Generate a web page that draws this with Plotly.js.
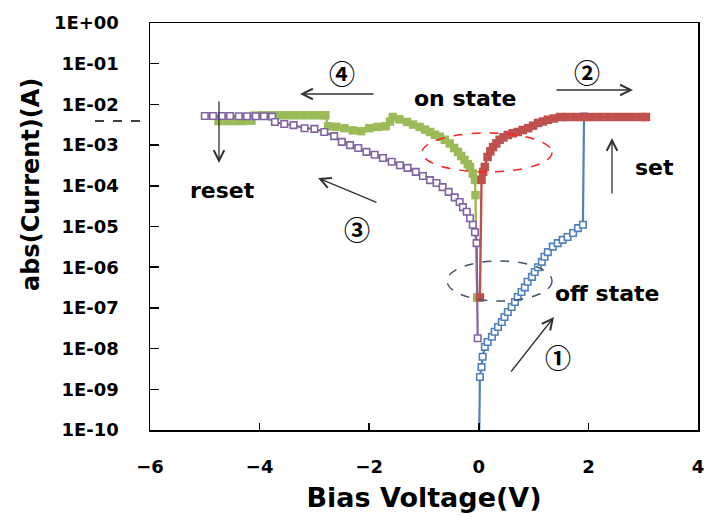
<!DOCTYPE html>
<html>
<head>
<meta charset="utf-8">
<script src="https://cdn.plot.ly/plotly-3.0.1.min.js"></script>
<style>html,body{margin:0;padding:0;background:#fff;}#chart{width:707px;height:517px;}</style>
</head>
<body>
<div id="chart"></div>
<script>
// ---- Data ----
// Sweep 1 (off state, 0 -> 2 V), open blue squares
const blueV = [0, 0.02, 0.05, 0.07, 0.11, 0.16, 0.24, 0.29, 0.35, 0.42, 0.47, 0.53, 0.60, 0.66, 0.71, 0.78, 0.84, 0.89, 0.97, 1.02, 1.08, 1.15, 1.20, 1.26, 1.35, 1.44, 1.53, 1.62, 1.72, 1.81, 1.90, 1.92];
const blueI = [1e-11, 2.0e-9, 3.5e-9, 6.3e-9, 1.1e-8, 1.45e-8, 1.95e-8, 2.6e-8, 3.4e-8, 4.5e-8, 6.0e-8, 7.9e-8, 1.05e-7, 1.4e-7, 1.85e-7, 2.45e-7, 3.2e-7, 4.4e-7, 5.8e-7, 7.6e-7, 1.0e-6, 1.35e-6, 1.8e-6, 2.35e-6, 3.2e-6, 3.9e-6, 4.7e-6, 5.5e-6, 6.9e-6, 9.1e-6, 1.1e-5, 5.0e-3];

// Sweep 2 (set, on state 0 -> 3 V), filled red squares
const redV = [0.02, 0.05, 0.08, 0.11, 0.16, 0.21, 0.26, 0.32, 0.38, 0.45, 0.53, 0.62, 0.71, 0.80, 0.90, 0.99, 1.08, 1.17, 1.26, 1.37, 1.48, 1.60, 1.75, 1.90, 2.05, 2.20, 2.35, 2.50, 2.65, 2.80, 2.95, 3.05];
const redI = [1.8e-7, 1.4e-4, 2.2e-4, 2.9e-4, 5.1e-4, 7.0e-4, 8.9e-4, 1.1e-3, 1.35e-3, 1.55e-3, 1.78e-3, 1.95e-3, 2.1e-3, 2.35e-3, 2.6e-3, 3.0e-3, 3.5e-3, 3.8e-3, 4.2e-3, 4.5e-3, 4.9e-3, 4.9e-3, 4.9e-3, 4.9e-3, 4.9e-3, 4.9e-3, 4.9e-3, 4.9e-3, 4.9e-3, 4.9e-3, 4.9e-3, 4.9e-3];

// Sweep 3 (reset, 0 -> -5 V), open purple squares
const purpleV = [-5.00, -4.85, -4.69, -4.54, -4.38, -4.23, -4.07, -3.92, -3.77, -3.72, -3.55, -3.38, -3.18, -3.00, -2.82, -2.64, -2.50, -2.35, -2.20, -2.05, -1.90, -1.75, -1.59, -1.44, -1.30, -1.15, -1.02, -0.89, -0.77, -0.66, -0.55, -0.44, -0.35, -0.29, -0.22, -0.16, -0.11, -0.07, -0.04, -0.02];
const purpleI = [5.2e-3, 5.2e-3, 5.2e-3, 5.2e-3, 5.1e-3, 5.1e-3, 5.1e-3, 5.1e-3, 5.0e-3, 3.7e-3, 3.3e-3, 3.1e-3, 2.6e-3, 2.5e-3, 2.1e-3, 1.66e-3, 1.2e-3, 1.0e-3, 8.5e-4, 6.8e-4, 5.8e-4, 4.8e-4, 3.9e-4, 3.2e-4, 2.75e-4, 2.2e-4, 1.74e-4, 1.38e-4, 1.17e-4, 9.3e-5, 7.1e-5, 5.2e-5, 4.0e-5, 3.0e-5, 2.3e-5, 1.6e-5, 1.1e-5, 7.2e-6, 3.9e-6, 1.8e-8];

// Sweep 4 (on state, 0 -> -5 V), filled green squares
const greenV = [-4.75, -4.60, -4.45, -4.30, -4.15, -4.10, -3.95, -3.80, -3.65, -3.50, -3.35, -3.20, -3.05, -2.90, -2.80, -2.75, -2.60, -2.45, -2.30, -2.15, -2.00, -1.85, -1.70, -1.62, -1.57, -1.45, -1.31, -1.20, -1.08, -0.98, -0.89, -0.80, -0.71, -0.62, -0.53, -0.45, -0.38, -0.32, -0.26, -0.20, -0.16, -0.11, -0.07, -0.06, -0.03];
const greenI = [3.9e-3, 3.9e-3, 3.9e-3, 3.9e-3, 4.0e-3, 5.3e-3, 5.4e-3, 5.4e-3, 5.4e-3, 5.4e-3, 5.4e-3, 5.4e-3, 5.4e-3, 5.4e-3, 5.4e-3, 2.9e-3, 2.8e-3, 2.6e-3, 2.3e-3, 2.2e-3, 2.6e-3, 2.8e-3, 2.9e-3, 3.8e-3, 4.9e-3, 4.3e-3, 3.7e-3, 3.2e-3, 2.8e-3, 2.4e-3, 2.1e-3, 1.8e-3, 1.6e-3, 1.35e-3, 1.1e-3, 8.5e-4, 6.8e-4, 5.4e-4, 4.3e-4, 3.4e-4, 2.9e-4, 2.0e-4, 1.4e-4, 5.9e-5, 1.8e-7];

// Axis ticks
const yTickVals = [1, 1e-1, 1e-2, 1e-3, 1e-4, 1e-5, 1e-6, 1e-7, 1e-8, 1e-9, 1e-10];
const yTickText = ['1E+00', '1E-01', '1E-02', '1E-03', '1E-04', '1E-05', '1E-06', '1E-07', '1E-08', '1E-09', '1E-10'];
const xTickVals = [-6, -4, -2, 0, 2, 4];

// ---- Layout helpers (pixel -> paper) ----
const W = 707, H = 517, ML = 150, MR = 9, MT = 23, MB = 87;
const PW = W - ML - MR, PH = H - MT - MB;
const px = x => (x - ML) / PW;
const py = y => (H - MB - y) / PH;

const FONT = 'DejaVu Sans, Verdana, sans-serif';
const CIRC = 'Noto Sans CJK JP, DejaVu Sans, sans-serif';
const boldFont = (s, c, f) => ({family: f || FONT, size: s, color: c || '#000', weight: 'bold'});

const traces = [
  {x: blueV, y: blueI, mode: 'lines+markers', name: 'sweep 1',
   line: {color: '#4f81bd', width: 2.2},
   marker: {symbol: 'square', size: 6.5, color: '#fff', line: {color: '#4f81bd', width: 1.6}}},
  {x: greenV, y: greenI, mode: 'lines+markers', name: 'sweep 4',
   line: {color: '#9bbb59', width: 2.4},
   marker: {symbol: 'square', size: 8.5, color: '#9bbb59', line: {width: 0}}},
  {x: purpleV, y: purpleI, mode: 'lines+markers', name: 'sweep 3',
   line: {color: '#8064a2', width: 2.2},
   marker: {symbol: 'square', size: 6.5, color: '#fff', line: {color: '#8064a2', width: 1.6}}},
  {x: redV, y: redI, mode: 'lines+markers', name: 'sweep 2',
   line: {color: '#c0504d', width: 2.4},
   marker: {symbol: 'square', size: 8.5, color: '#c0504d', line: {width: 0}}}
];

function label(text, x, y, size, fam) {
  return {text: text, xref: 'paper', yref: 'paper', x: px(x), y: py(y),
          xanchor: 'center', yanchor: 'middle', showarrow: false, font: boldFont(size, '#000', fam)};
}
function arrow(tipX, tipY, tailX, tailY) {
  return {text: '', xref: 'paper', yref: 'paper', x: px(tipX), y: py(tipY),
          ax: tailX - tipX, ay: tailY - tipY, showarrow: true,
          arrowhead: 5, arrowsize: 1.6, arrowwidth: 1.3, arrowcolor: '#333', standoff: 0, startstandoff: 0};
}

const annotations = [
  label('abs(Current)(A)', 31, 185, 24),
  label('④', 342, 72, 26, CIRC),
  label('②', 587, 71, 26, CIRC),
  label('③', 357, 228, 26, CIRC),
  label('①', 558, 356, 26, CIRC),
  label('on state', 465, 98, 22),
  label('reset', 222, 190, 22),
  label('set', 654, 167, 22),
  label('off state', 607, 293, 22),
  arrow(300, 94, 375, 94),
  arrow(633, 90, 555, 90),
  arrow(219, 163, 219, 100),
  arrow(612, 138, 612, 195),
  arrow(318, 178, 378, 203),
  arrow(554, 317, 510, 373)
];
annotations[0].textangle = -90;

const shapes = [
  {type: 'circle', xref: 'paper', yref: 'paper', x0: px(422), x1: px(552), y0: py(172), y1: py(133),
   line: {color: '#ff2020', width: 1.5, dash: 'dash'}},
  {type: 'circle', xref: 'paper', yref: 'paper', x0: px(447), x1: px(552), y0: py(301), y1: py(261),
   line: {color: '#44546a', width: 1.5, dash: 'dash'}},
  {type: 'line', xref: 'paper', yref: 'paper', x0: px(95), x1: px(146), y0: py(121), y1: py(121),
   line: {color: '#000', width: 1.5, dash: 'dash'}}
];

const layout = {
  width: W, height: H,
  margin: {l: ML, r: MR, t: MT, b: MB, pad: 0},
  paper_bgcolor: '#fff', plot_bgcolor: '#fff',
  showlegend: false,
  font: {family: FONT, color: '#000'},
  xaxis: {
    range: [-6, 4], tickvals: xTickVals, ticks: 'inside', ticklen: 7, tickwidth: 1.5, tickcolor: '#000',
    showline: true, linecolor: '#000', linewidth: 1.5, mirror: true,
    showgrid: false, zeroline: false, tickfont: boldFont(18), ticklabelstandoff: 20,
    title: {text: 'Bias Voltage(V)', font: boldFont(27), standoff: 12}
  },
  yaxis: {
    type: 'log', range: [-10, 0], tickvals: yTickVals, ticktext: yTickText,
    ticks: 'inside', ticklen: 9, tickwidth: 1.5, tickcolor: '#000',
    showline: true, linecolor: '#000', linewidth: 1.5, mirror: true,
    showgrid: false, zeroline: false, tickfont: boldFont(18), ticklabelstandoff: 26
  },
  annotations: annotations,
  shapes: shapes
};

Plotly.newPlot('chart', traces, layout, {displayModeBar: false, staticPlot: true});
</script>
</body>
</html>
